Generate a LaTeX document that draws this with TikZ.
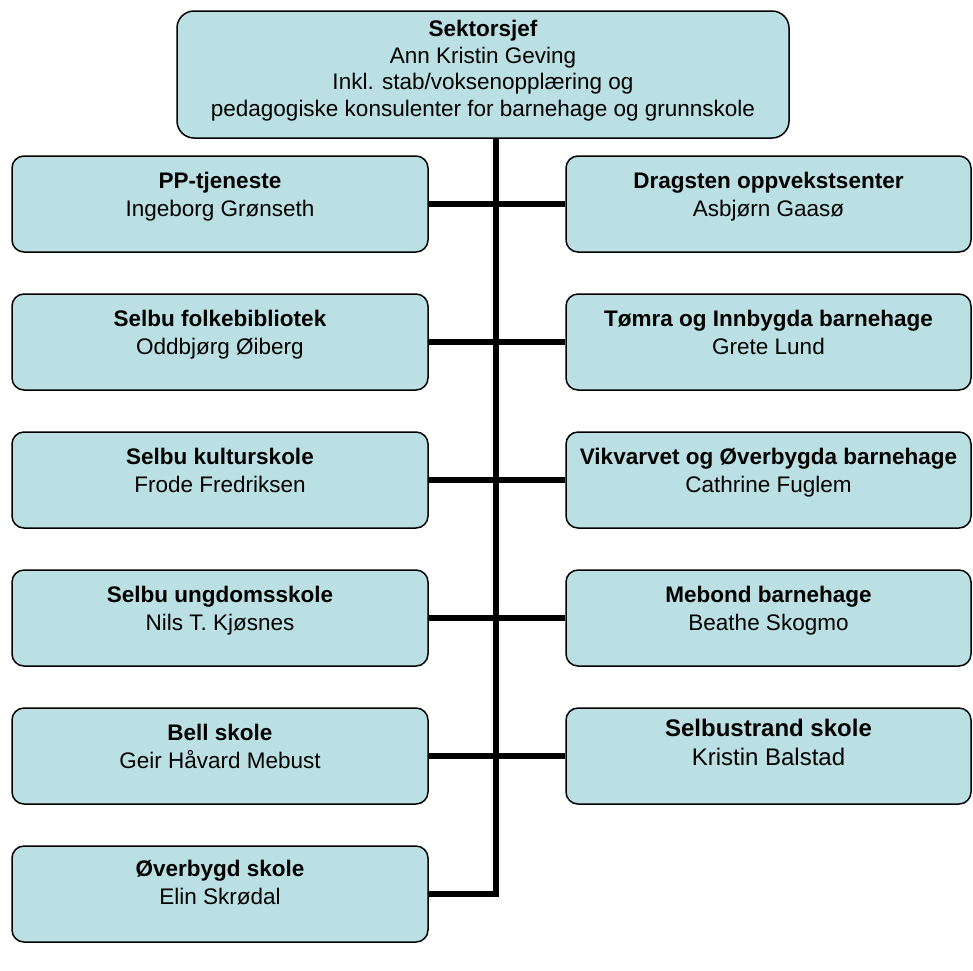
\documentclass[tikz,border=0pt]{standalone}
\usepackage{fontspec}
\setmainfont{Liberation Sans}
\definecolor{boxfill}{RGB}{186,224,227}
\newcommand{\orgtext}[4]{\parbox[c][#2][t]{#1}{\centering\rule{0pt}{#3}#4}}
\tikzset{
  orgbox/.style={draw=black, line width=1.5pt, fill=boxfill, rounded corners=12pt,
    inner sep=0pt, font=\fontsize{22.5}{28}\selectfont},
  topbox/.style={orgbox, rounded corners=17pt, font=\fontsize{22.5}{26.5}\selectfont},
  bigbox/.style={orgbox, font=\fontsize{24}{29}\selectfont},
  conn/.style={draw=black, line width=6pt}
}
\begin{document}
\begin{tikzpicture}[x=1pt,y=-1pt]
\useasboundingbox (0,0) rectangle (973,970);
\node[topbox] (top) at (483,74.5) {\orgtext{612pt}{127pt}{25.5pt}{\textbf{Sektorsjef}\\Ann Kristin Geving\\Inkl. stab/voksenopplæring og\\pedagogiske konsulenter for barnehage og grunnskole}};
% left column
\node[orgbox] (pp) at (220,204) {\orgtext{416pt}{96pt}{32pt}{\textbf{PP-tjeneste}\\Ingeborg Grønseth}};
\node[orgbox] (fb) at (220,342) {\orgtext{416pt}{96pt}{32pt}{\textbf{Selbu folkebibliotek}\\Oddbjørg Øiberg}};
\node[orgbox] (ks) at (220,480) {\orgtext{416pt}{96pt}{32pt}{\textbf{Selbu kulturskole}\\Frode Fredriksen}};
\node[orgbox] (us) at (220,618) {\orgtext{416pt}{96pt}{32pt}{\textbf{Selbu ungdomsskole}\\Nils T. Kjøsnes}};
\node[orgbox] (bs) at (220,756) {\orgtext{416pt}{96pt}{32pt}{\textbf{Bell skole}\\Geir Håvard Mebust}};
\node[orgbox] (os) at (220,894) {\orgtext{416pt}{96pt}{30pt}{\textbf{Øverbygd skole}\\Elin Skrødal}};
% right column
\node[orgbox] (dr) at (768.5,204) {\orgtext{405pt}{96pt}{32pt}{\textbf{Dragsten oppvekstsenter}\\Asbjørn Gaasø}};
\node[orgbox] (tb) at (768.5,342) {\orgtext{405pt}{96pt}{32pt}{\textbf{Tømra og Innbygda barnehage}\\Grete Lund}};
\node[orgbox] (vb) at (768.5,480) {\orgtext{405pt}{96pt}{32pt}{\textbf{Vikvarvet og Øverbygda barnehage}\\Cathrine Fuglem}};
\node[orgbox] (mb) at (768.5,618) {\orgtext{405pt}{96pt}{32pt}{\textbf{Mebond barnehage}\\Beathe Skogmo}};
\node[bigbox] (ss) at (768.5,756) {\orgtext{405pt}{96pt}{28pt}{\textbf{Selbustrand skole}\\Kristin Balstad}};
% connectors
\coordinate (spx) at (496,0);
\draw[conn] (top.south -| spx) |- (os.east);
\draw[conn] (pp.east) -- (dr.west);
\draw[conn] (fb.east) -- (tb.west);
\draw[conn] (ks.east) -- (vb.west);
\draw[conn] (us.east) -- (mb.west);
\draw[conn] (bs.east) -- (ss.west);
\end{tikzpicture}
\end{document}
